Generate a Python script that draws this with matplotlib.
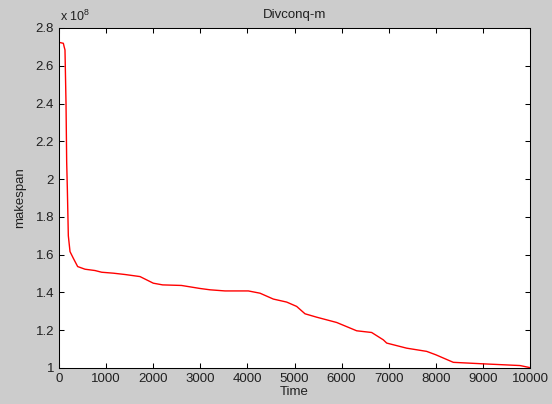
import matplotlib
matplotlib.use('Agg')
import matplotlib.pyplot as plt
from matplotlib.ticker import FuncFormatter

# (makespan in units of 1e8)
time = [0, 92, 110, 127, 149, 163, 177, 198, 234, 304, 396, 552, 764, 906,
        1153, 1400, 1720, 2002, 2200, 2600, 2994, 3206, 3524, 4020, 4268,
        4550, 4834, 5046, 5223, 5471, 5895, 6320, 6638, 6886, 6957, 7381,
        7806, 8000, 8372, 9009, 9788, 10000]
makespan_e8 = [2.724, 2.719, 2.70, 2.684, 2.40, 2.09, 1.95, 1.70, 1.616,
               1.581, 1.537, 1.523, 1.516, 1.507, 1.502, 1.495, 1.484,
               1.449, 1.44, 1.437, 1.421, 1.414, 1.408, 1.408, 1.396, 1.365,
               1.349, 1.326, 1.287, 1.269, 1.241, 1.197, 1.188, 1.149, 1.132,
               1.105, 1.088, 1.07, 1.03, 1.022, 1.013, 1.002]
makespan = [v * 1e8 for v in makespan_e8]

xticks = list(range(0, 10001, 1000))
yticks = [1e8 + i * 0.2e8 for i in range(10)]

plt.rcParams['font.family'] = ['Liberation Sans', 'DejaVu Sans']
plt.rcParams['font.size'] = 9.5
plt.rcParams['mathtext.fontset'] = 'custom'
plt.rcParams['mathtext.rm'] = 'Liberation Sans'

fig = plt.figure(figsize=(5.52, 4.04), dpi=100, facecolor='#cccccc')
ax = fig.add_axes([59 / 552, 1 - 368 / 404, 471 / 552, 340 / 404])
ax.set_facecolor('white')

ax.plot(time, makespan, color='#ff0000', lw=1)

ax.set_xlim(0, 10000)
ax.set_ylim(1e8, 2.8e8)
ax.set_xticks(xticks)
ax.set_yticks(yticks)
ax.yaxis.set_major_formatter(FuncFormatter(lambda v, p: f'{v / 1e8:g}'))
ax.tick_params(direction='in', top=True, right=True, length=3.5,
               width=0.75, labelsize=9.5, pad=3.5, colors='black',
               labelcolor='#202020')
for s in ax.spines.values():
    s.set_linewidth(0.75)

ax.text(0.003, 1 + 7 / 340, r'x 10$^{\mathrm{8}}$', transform=ax.transAxes,
        fontsize=9, va='baseline', ha='left', color='#202020')
ax.set_title('Divconq-m', fontsize=9.5, pad=7, color='#202020')
ax.set_xlabel('Time', labelpad=1, color='#202020')
ax.set_ylabel('makespan', labelpad=7, color='#202020')

fig.savefig('out.png', dpi=100, facecolor=fig.get_facecolor())
